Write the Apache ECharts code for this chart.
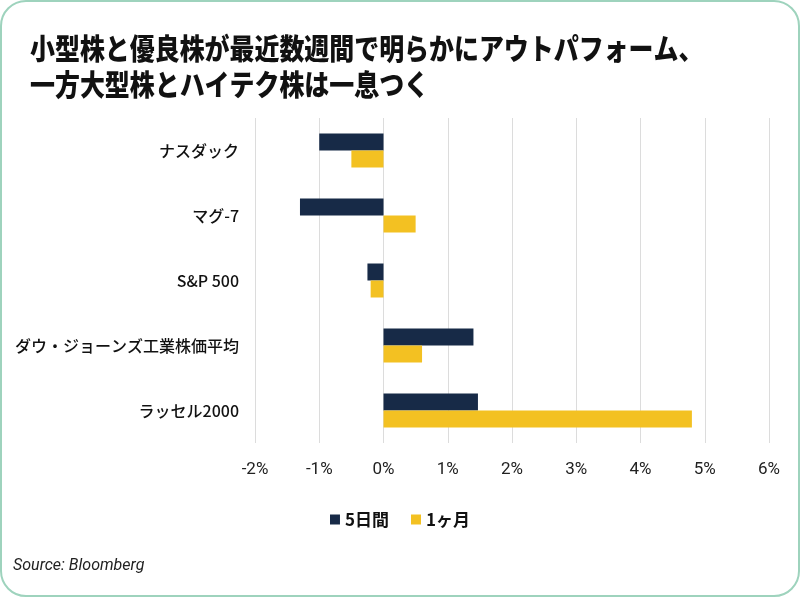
<!DOCTYPE html>
<html>
<head>
<meta charset="utf-8">
<script src="https://cdn.jsdelivr.net/npm/echarts@6/dist/echarts.min.js"></script>
<style>
  html, body { margin: 0; padding: 0; background: #fff; }
  #wrap {
    width: 796px; height: 593px;
    border: 2px solid #9ed3bd; border-radius: 26px;
    overflow: hidden; background: #fff;
  }
  #chart { width: 796px; height: 593px; }
</style>
</head>
<body>
<div id="wrap"><div id="chart"></div></div>
<script>
var categories = ['ナスダック', 'マグ-7', 'S&P 500', 'ダウ・ジョーンズ工業株価平均', 'ラッセル2000'];
var week = [-1.0, -1.3, -0.25, 1.4, 1.47];
var month = [-0.5, 0.5, -0.2, 0.6, 4.8];
var seriesNames = ['5日間', '1ヶ月'];

var myChart = echarts.init(document.getElementById('chart'));

var option = {
    animation: false,
    graphic: [
        {
            type: 'text', x: 28, y: 29, scaleX: 0.86,
            style: {
                text: '小型株と優良株が最近数週間で明らかにアウトパフォーム、\n一方大型株とハイテク株は一息つく',
                font: '900 29px "Noto Sans CJK JP"',
                fill: '#111', lineHeight: 36
            }
        },
        {
            type: 'text', x: 11, y: 556,
            style: {
                text: 'Source: Bloomberg',
                font: 'italic 16px Roboto',
                fill: '#222'
            }
        }
    ],
    legend: {
        data: seriesNames,
        top: 504, left: 'center',
        icon: 'rect', itemWidth: 10, itemHeight: 10, itemGap: 22,
        textStyle: { fontSize: 17, fontWeight: 'bold', color: '#111', fontFamily: '"Noto Sans CJK JP"' }
    },
    grid: { left: 253, right: 29, top: 116, bottom: 152, containLabel: false },
    xAxis: {
        type: 'value', min: -2, max: 6, interval: 1,
        axisLine: { show: false }, axisTick: { show: false },
        splitLine: { lineStyle: { color: '#dcdcdc' } },
        axisLabel: { formatter: '{value}%', margin: 18, fontSize: 17, color: '#222', fontFamily: 'Roboto' }
    },
    yAxis: {
        type: 'category', data: categories, inverse: true,
        axisLine: { show: false }, axisTick: { show: false },
        axisLabel: { margin: 16, fontSize: 16, fontWeight: 500, color: '#111', fontFamily: '"Noto Sans CJK JP"' }
    },
    series: [
        { name: seriesNames[0], type: 'bar', data: week, barWidth: 17, barGap: '0%',
          itemStyle: { color: '#172a47' } },
        { name: seriesNames[1], type: 'bar', data: month, barWidth: 17,
          itemStyle: { color: '#f3c122' } }
    ]
};

myChart.setOption(option);
</script>
</body>
</html>
